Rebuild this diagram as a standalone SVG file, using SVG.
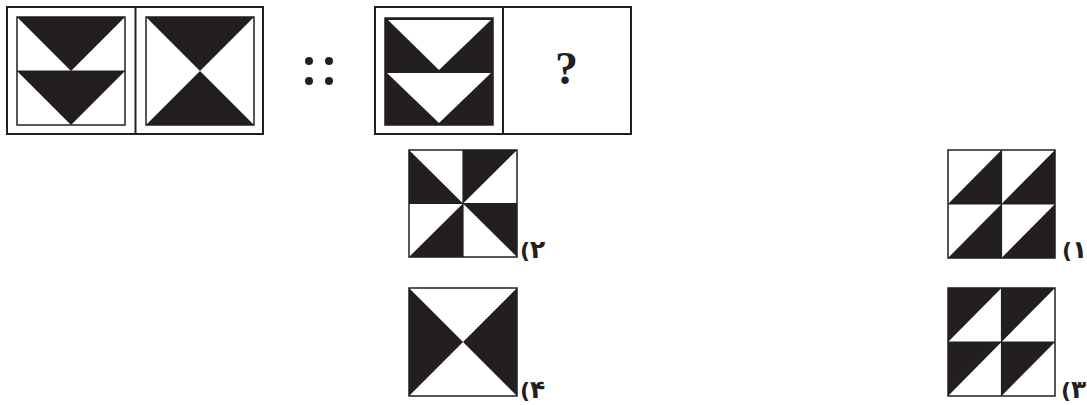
<svg xmlns="http://www.w3.org/2000/svg" width="1087" height="405" viewBox="0 0 1087 405">
<style>
.frame{fill:none;stroke:#231f20;stroke-width:2}
.sq{fill:none;stroke:#231f20;stroke-width:1.5}
.blk{fill:#231f20;stroke:none}
.ln{stroke:#231f20;stroke-width:1.2;fill:none}
.lbl{font-family:"DejaVu Sans",sans-serif;font-weight:bold;font-size:22px;fill:#231f20}
.dg{font-size:25px}
.q{font-family:"Liberation Serif",serif;font-weight:bold;font-size:46px;fill:#231f20}
</style>
<rect width="1087" height="405" fill="#ffffff"/>
<g id="question-left">
<rect class="frame" x="7" y="7" width="256" height="127"/>
<line class="frame" x1="135.5" y1="7" x2="135.5" y2="134"/>
<g id="cell1">
<polygon class="blk" points="17,17 125,17 71,71"/>
<polygon class="blk" points="17,71 125,71 71,125"/>
<line class="ln" x1="17" y1="71" x2="125" y2="71"/>
<rect class="sq" x="17" y="17" width="108" height="108"/>
</g>
<g id="cell2">
<polygon class="blk" points="146,17 254,17 200,71"/>
<polygon class="blk" points="146,125 254,125 200,71"/>
<rect class="sq" x="146" y="17" width="108" height="108"/>
</g>
</g>
<g id="analogy-sign">
<circle class="blk" cx="309" cy="61" r="4"/>
<circle class="blk" cx="329" cy="61" r="4"/>
<circle class="blk" cx="309" cy="81" r="4"/>
<circle class="blk" cx="329" cy="81" r="4"/>
</g>
<g id="question-right">
<rect class="frame" x="375" y="7" width="256" height="127"/>
<line class="frame" x1="503" y1="7" x2="503" y2="134"/>
<g id="cell3">
<rect class="blk" x="385" y="18" width="108" height="107"/>
<polygon fill="#ffffff" points="388,20 491,20 439,70"/>
<polygon fill="#ffffff" points="387,73 491,73 439,123"/>
<rect class="sq" x="385" y="18" width="108" height="107"/>
</g>
<g id="cell4">
<text class="q" x="566.5" y="84" text-anchor="middle">?</text>
</g>
</g>
<g id="option2">
<polygon class="blk" points="409,150 409,203.5 463,203.5"/>
<polygon class="blk" points="463,150 517,150 463,203.5"/>
<polygon class="blk" points="463,203.5 463,257 409,257"/>
<polygon class="blk" points="463,203.5 517,203.5 517,257"/>
<line class="ln" x1="463" y1="150" x2="463" y2="257"/>
<line class="ln" x1="409" y1="203.5" x2="517" y2="203.5"/>
<rect class="sq" x="409" y="150" width="108" height="107"/>
<text class="lbl" x="520" y="258">(<tspan class="dg">۲</tspan></text>
</g>
<g id="option4">
<polygon class="blk" points="409,288 409,396 463,342"/>
<polygon class="blk" points="517,288 517,396 463,342"/>
<rect class="sq" x="409" y="288" width="108" height="108"/>
<text class="lbl" x="520" y="398">(<tspan class="dg">۴</tspan></text>
</g>
<g id="option1">
<polygon class="blk" points="948,204 1001.5,150 1001.5,204"/>
<polygon class="blk" points="1001.5,204 1055,150 1055,204"/>
<polygon class="blk" points="948,258 1001.5,204 1001.5,258"/>
<polygon class="blk" points="1001.5,258 1055,204 1055,258"/>
<line class="ln" x1="1001.5" y1="150" x2="1001.5" y2="258"/>
<line class="ln" x1="948" y1="204" x2="1055" y2="204"/>
<rect class="sq" x="948" y="150" width="107" height="108"/>
<text class="lbl" x="1062" y="258">(<tspan class="dg">۱</tspan></text>
</g>
<g id="option3">
<polygon class="blk" points="948,288 1001.5,288 948,342"/>
<polygon class="blk" points="1001.5,288 1055,288 1001.5,342"/>
<polygon class="blk" points="948,342 1001.5,342 948,396"/>
<polygon class="blk" points="1001.5,342 1055,342 1001.5,396"/>
<line class="ln" x1="1001.5" y1="288" x2="1001.5" y2="396"/>
<line class="ln" x1="948" y1="342" x2="1055" y2="342"/>
<rect class="sq" x="948" y="288" width="107" height="108"/>
<text class="lbl" x="1061" y="398">(<tspan class="dg">۳</tspan></text>
</g>
</svg>
